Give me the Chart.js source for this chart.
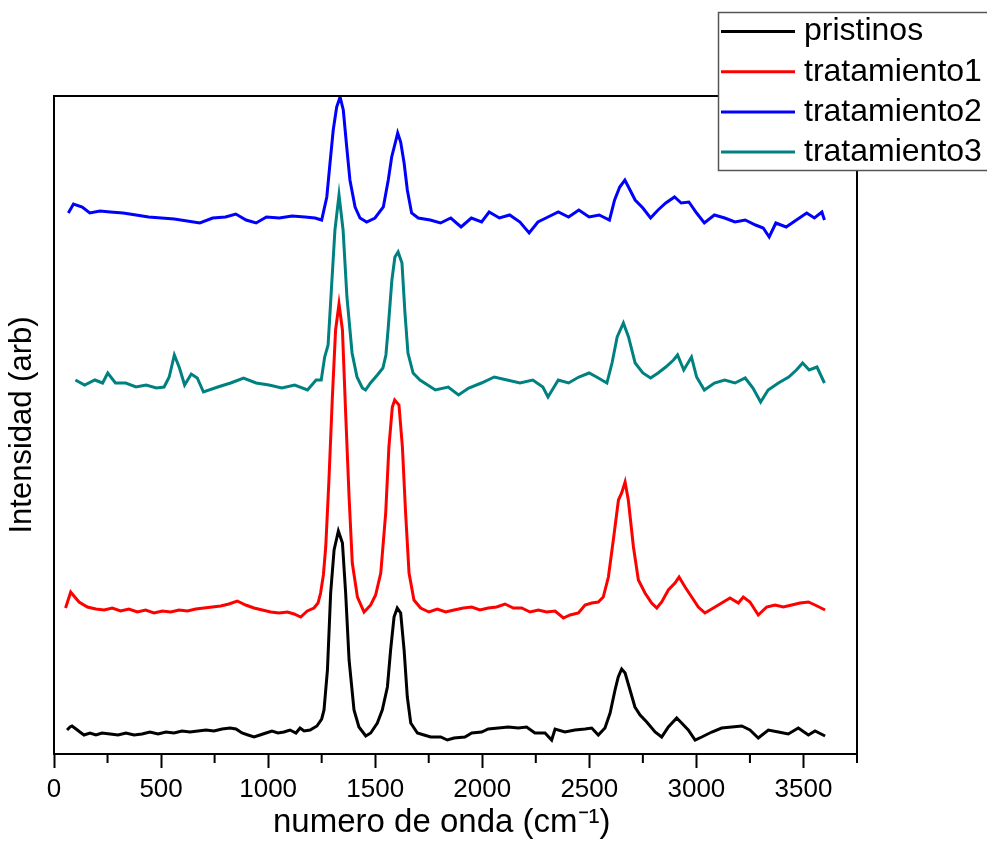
<!DOCTYPE html>
<html><head><meta charset="utf-8">
<script src="https://cdn.jsdelivr.net/npm/chart.js@4"></script>
<style>html,body{margin:0;padding:0;background:#fff}canvas{display:block}</style>
</head><body>
<canvas id="c" width="987" height="843"></canvas>
<script>
const seriesNames = ['pristinos', 'tratamiento1', 'tratamiento2', 'tratamiento3'];
const seriesColors = ['#000000', '#ff0000', '#0000ff', '#008080'];

const xTickValues = [0, 500, 1000, 1500, 2000, 2500, 3000, 3500];
const xMinorTicks = [250, 750, 1250, 1750, 2250, 2750, 3250, 3750];

const pristinosX = [61,75,84,103,121,140,168,196,224,262,299,336,374,411,448,486,523,560,598,635,672,710,747,785,822,850,878,906,934,962,990,1018,1046,1074,1102,1130,1149,1168,1196,1228,1250,1261,1277,1292,1308,1328,1347,1362,1378,1401,1424,1456,1479,1510,1533,1557,1572,1588,1603,1619,1635,1650,1666,1697,1728,1759,1806,1837,1868,1919,1951,1997,2028,2075,2122,2168,2207,2246,2293,2324,2340,2386,2433,2480,2511,2542,2573,2597,2620,2635,2651,2667,2690,2713,2737,2768,2807,2838,2869,2908,2931,2962,2994,3025,3072,3118,3165,3212,3250,3289,3336,3383,3429,3476,3523,3554,3601];
const pristinosY = [240,270,280,250,220,190,210,190,210,200,190,210,190,200,220,200,220,210,230,220,230,240,230,250,260,250,210,190,170,190,210,230,210,220,240,210,260,230,240,280,350,440,840,1610,2040,2230,2110,1610,940,440,270,180,210,310,440,670,1040,1370,1460,1410,1040,570,310,210,190,170,170,140,160,170,210,220,250,260,270,260,270,210,210,140,250,220,240,250,260,190,260,410,640,770,850,810,640,470,390,320,220,170,270,360,310,240,140,170,220,260,270,280,240,160,240,220,200,260,190,230,180];

const tratamiento1X = [54,78,97,117,156,195,234,272,311,350,389,428,467,506,545,584,623,662,700,739,778,817,856,895,934,973,1012,1051,1090,1121,1152,1183,1214,1233,1245,1258,1269,1284,1300,1315,1331,1347,1362,1378,1393,1417,1448,1479,1502,1526,1549,1564,1580,1591,1611,1627,1642,1658,1681,1712,1751,1790,1829,1868,1912,1951,1989,2028,2067,2106,2145,2184,2223,2262,2301,2340,2379,2410,2449,2480,2511,2542,2565,2589,2612,2636,2651,2667,2682,2706,2729,2760,2791,2815,2838,2869,2900,2919,2947,2978,3009,3040,3079,3118,3157,3196,3219,3250,3289,3328,3367,3406,3445,3484,3523,3554,3601];
const tratamiento1Y = [1460,1620,1570,1520,1470,1450,1440,1460,1430,1450,1420,1440,1410,1430,1420,1440,1430,1450,1460,1470,1480,1500,1530,1490,1460,1440,1420,1410,1420,1400,1370,1430,1460,1510,1610,1790,2070,2740,3570,4240,4500,4240,3410,2570,1910,1570,1420,1490,1590,1810,2410,3070,3470,3540,3490,3070,2410,1810,1540,1460,1420,1450,1420,1440,1460,1470,1440,1460,1470,1500,1460,1460,1420,1440,1420,1430,1360,1390,1410,1490,1510,1520,1570,1770,2140,2540,2610,2720,2540,2070,1740,1610,1510,1460,1520,1640,1710,1770,1670,1570,1470,1410,1460,1510,1560,1510,1570,1520,1390,1470,1490,1470,1490,1510,1520,1490,1440];

const tratamiento2X = [67,91,132,167,215,263,323,383,442,502,562,622,681,741,801,849,897,944,992,1052,1112,1172,1219,1250,1274,1289,1304,1320,1336,1351,1367,1382,1406,1429,1460,1499,1538,1561,1577,1597,1605,1619,1635,1650,1670,1701,1757,1805,1853,1901,1949,1997,2032,2080,2128,2176,2219,2260,2307,2355,2403,2451,2499,2546,2594,2618,2642,2666,2690,2714,2750,2786,2821,2857,2898,2929,2965,3001,3037,3084,3132,3180,3228,3276,3312,3340,3371,3419,3467,3515,3551,3586,3598];
const tratamiento2Y = [5410,5500,5470,5410,5430,5420,5410,5390,5370,5360,5350,5330,5310,5360,5370,5400,5340,5310,5370,5360,5380,5370,5360,5340,5570,5910,6240,6470,6570,6440,6070,5740,5470,5360,5320,5360,5470,5740,5970,6140,6210,6120,5910,5640,5410,5360,5340,5310,5360,5270,5360,5320,5420,5360,5390,5320,5210,5320,5370,5420,5370,5440,5370,5390,5340,5540,5670,5740,5640,5540,5460,5360,5440,5510,5570,5510,5520,5410,5310,5390,5360,5320,5340,5290,5260,5170,5310,5270,5340,5410,5360,5420,5340];

const tratamiento3X = [100,143,191,227,251,287,335,383,430,478,514,538,562,586,610,641,669,698,765,825,885,944,1004,1064,1124,1184,1224,1248,1264,1280,1298,1312,1331,1350,1368,1392,1415,1440,1455,1478,1510,1536,1550,1560,1578,1592,1607,1625,1639,1653,1677,1709,1781,1841,1889,1937,1996,2056,2116,2176,2236,2283,2307,2355,2403,2451,2499,2534,2582,2606,2630,2659,2683,2714,2750,2786,2821,2857,2893,2912,2941,2977,3001,3037,3084,3132,3180,3228,3264,3300,3335,3383,3431,3467,3496,3527,3563,3598];
const tratamiento3Y = [3740,3690,3740,3710,3810,3710,3710,3670,3690,3660,3670,3770,3990,3860,3690,3800,3760,3620,3670,3710,3760,3710,3690,3660,3690,3640,3740,3740,3970,4090,4740,5240,5590,5240,4570,4010,3770,3660,3640,3710,3790,3860,3990,4240,4740,4970,5020,4910,4410,4010,3810,3740,3640,3670,3590,3660,3710,3770,3740,3710,3740,3670,3570,3740,3710,3770,3810,3770,3710,3910,4170,4310,4170,3910,3810,3760,3810,3870,3940,3990,3840,3970,3770,3640,3710,3740,3710,3760,3660,3520,3640,3710,3770,3840,3910,3840,3870,3710];

const FONT = "'Liberation Sans', Arial, sans-serif";

function toPoints(xs, ys) { return xs.map((x, i) => ({ x: x, y: ys[i] })); }

const seriesX = [pristinosX, tratamiento1X, tratamiento2X, tratamiento3X];
const seriesY = [pristinosY, tratamiento1Y, tratamiento2Y, tratamiento3Y];

const datasets = seriesNames.map((name, i) => ({
  label: name,
  data: toPoints(seriesX[i], seriesY[i]),
  borderColor: seriesColors[i],
  backgroundColor: seriesColors[i],
  borderWidth: 3,
  pointRadius: 0,
  tension: 0,
  fill: false
}));

const framePlugin = {
  id: 'frame',
  afterDatasetsDraw(chart) {
    const ctx = chart.ctx, a = chart.chartArea, xs = chart.scales.x;
    ctx.save();
    ctx.strokeStyle = '#000';
    ctx.lineWidth = 2;
    ctx.strokeRect(a.left, a.top, a.right - a.left, a.bottom - a.top);
    ctx.beginPath();
    xMinorTicks.forEach(v => {
      const px = xs.getPixelForValue(v);
      ctx.moveTo(px, a.bottom);
      ctx.lineTo(px, a.bottom + 9);
    });
    ctx.stroke();
    ctx.restore();
  }
};

const legendPlugin = {
  id: 'legendBox',
  afterDraw(chart) {
    const ctx = chart.ctx;
    ctx.save();
    ctx.fillStyle = '#ffffff';
    ctx.fillRect(718, 12, 290, 158);
    ctx.strokeStyle = '#555555';
    ctx.lineWidth = 1.5;
    ctx.strokeRect(718.5, 12.5, 290, 158);
    ctx.font = '32px ' + FONT;
    ctx.textBaseline = 'middle';
    ctx.textAlign = 'left';
    chart.data.datasets.forEach((ds, i) => {
      const y = 31.5 + i * 40.2;
      ctx.strokeStyle = ds.borderColor;
      ctx.lineWidth = 3;
      ctx.beginPath();
      ctx.moveTo(721, y);
      ctx.lineTo(795, y);
      ctx.stroke();
      ctx.fillStyle = '#000';
      ctx.fillText(ds.label, 804, y);
    });
    ctx.restore();
  }
};

new Chart(document.getElementById('c'), {
  type: 'line',
  data: { datasets: datasets },
  options: {
    responsive: false,
    animation: false,
    devicePixelRatio: 1,
    layout: { padding: { top: 96, right: 130, left: 0, bottom: 0 } },
    plugins: { legend: { display: false }, tooltip: { enabled: false } },
    scales: {
      x: {
        type: 'linear',
        min: 0,
        max: 3750,
        afterFit(s) { s.height = 89; },
        afterBuildTicks(s) { s.ticks = xTickValues.map(v => ({ value: v })); },
        ticks: {
          font: { family: FONT, size: 26 },
          color: '#000',
          padding: 6,
          maxRotation: 0,
          autoSkip: false,
          callback: v => String(v)
        },
        grid: { drawOnChartArea: false, drawTicks: true, tickLength: 14, tickWidth: 2, tickColor: '#000' },
        border: { display: true, color: '#000', width: 2 },
        title: { display: true, text: 'numero de onda (cm⁻¹)   ', font: { family: FONT, size: 33 }, color: '#000', padding: { top: 0, bottom: 0 } }
      },
      y: {
        type: 'linear',
        min: 0,
        max: 6580,
        afterFit(s) { s.width = 54; },
        ticks: { display: false },
        grid: { display: false, drawTicks: false },
        border: { display: true, color: '#000', width: 2 },
        title: { display: true, text: 'Intensidad (arb)', font: { family: FONT, size: 31 }, color: '#000', padding: { top: 4, bottom: 0 } }
      }
    }
  },
  plugins: [framePlugin, legendPlugin]
});
</script>
</body></html>
